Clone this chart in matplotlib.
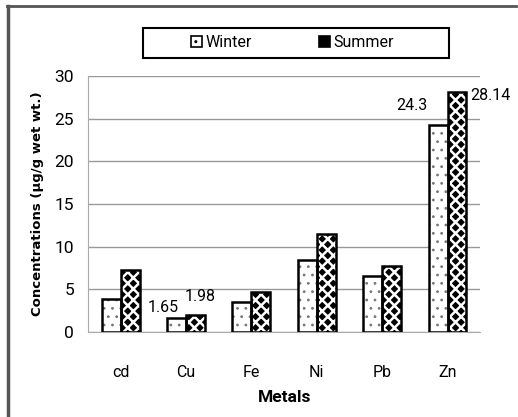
import numpy as np
import matplotlib.pyplot as plt
from matplotlib.lines import Line2D
from matplotlib.patches import Rectangle

metals = ['cd', 'Cu', 'Fe', 'Ni', 'Pb', 'Zn']
winter = [3.9, 1.65, 3.5, 8.4, 6.6, 24.3]
summer = [7.2, 1.98, 4.7, 11.5, 7.7, 28.14]

narrow = ['Roboto', 'DejaVu Sans']

fig = plt.figure(figsize=(5.18, 4.17), dpi=100)
ax = fig.add_axes([0.170, 0.204, 0.757, 0.614])

x = np.arange(len(metals))
w = 0.29

# winter: faint dots on white
with plt.rc_context({'hatch.linewidth': 0.8}):
    b1 = ax.bar(x - w/2, winter, w, facecolor='white', edgecolor='#777777',
                linewidth=0, hatch='..', label='Winter', zorder=3)
# summer: black diamonds (black fill, white lattice)
with plt.rc_context({'hatch.linewidth': 1.8}):
    b2 = ax.bar(x + w/2, summer, w, facecolor='black', edgecolor='white',
                linewidth=0, hatch='xxx', label='Summer', zorder=3)
# outlines
ax.bar(x - w/2, winter, w, facecolor='none', edgecolor='black', linewidth=1.8, zorder=4)
ax.bar(x + w/2, summer, w, facecolor='none', edgecolor='black', linewidth=1.8, zorder=4)

ax.set_xlim(-0.5, len(metals) - 0.5)
ax.set_ylim(0, 30)
ax.set_yticks(range(0, 31, 5))
ax.set_xticks(x)
ax.set_xticklabels(metals, family=narrow, fontsize=11.5)
for t in ax.get_yticklabels():
    t.set_family(narrow)
    t.set_fontsize(12.5)
ax.tick_params(length=0)
ax.tick_params(axis='y', pad=10)
ax.tick_params(axis='x', pad=24)
ax.grid(axis='y', color='#999999', linewidth=1, zorder=0)
for s in ['top', 'right']:
    ax.spines[s].set_visible(False)
for s in ['left', 'bottom']:
    ax.spines[s].set_color('#aaaaaa')

ax.set_ylabel('Concentrations (\u00b5g/g wet wt.)', fontsize=9.5,
              fontweight='bold', labelpad=8)
ax.set_xlabel('Metals', family=narrow, fontsize=12.5, fontweight='bold', labelpad=7)

# data labels on Cu and Zn
lab = dict(textcoords='offset points', family=narrow, fontsize=11.5)
ax.annotate('1.65', (x[1] - w, winter[1]), xytext=(-3, 2), ha='center', va='bottom', **lab)
ax.annotate('1.98', (x[1] + w/2, summer[1]), xytext=(3, 8), ha='center', va='bottom', **lab)
ax.annotate('24.3', (x[5] - w, winter[5]), xytext=(-1, 8), ha='right', va='bottom', **lab)
ax.annotate('28.14', (x[5] + w, summer[5]), xytext=(3, -3), ha='left', va='center', **lab)

# legend with a hand-sized frame
fig.add_artist(Rectangle((0.276, 0.861), 0.591, 0.072, transform=fig.transFigure,
                         fill=False, edgecolor='black', linewidth=1.5))
leg = fig.legend(handles=[b1, b2], loc='center', ncol=2, frameon=False,
                 prop={'family': narrow, 'size': 11.5}, handlelength=0.7,
                 handleheight=0.7, handletextpad=0.2, columnspacing=4.2,
                 bbox_to_anchor=(0.565, 0.897), bbox_transform=fig.transFigure)
for h in leg.legend_handles:
    h.set_edgecolor('black')
    h.set_linewidth(1.2)

# outer chart border (left and top only visible)
fig.add_artist(Line2D([0.016, 0.016], [0, 0.985], transform=fig.transFigure,
                      color='#555555', linewidth=2.5))
fig.add_artist(Line2D([0.014, 0.996], [0.985, 0.985], transform=fig.transFigure,
                      color='#555555', linewidth=2))

fig.savefig('out.png', dpi=100)
